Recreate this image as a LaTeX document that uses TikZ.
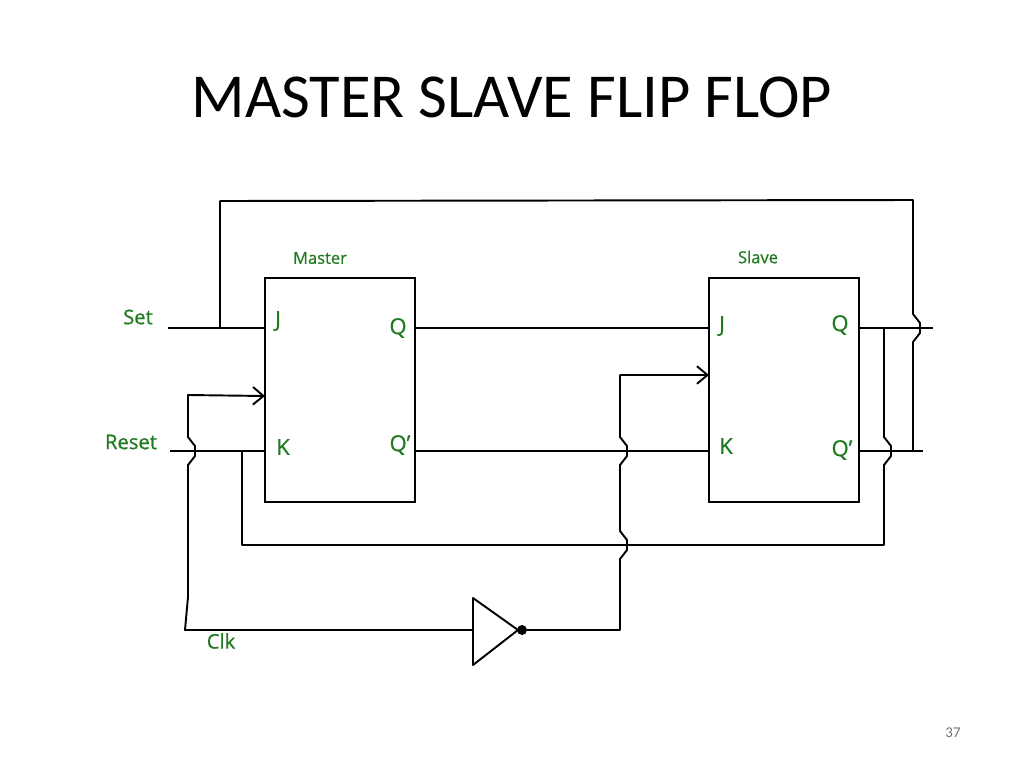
\documentclass[tikz,border=0pt]{standalone}
\usepackage{fontspec}
\setmainfont{Carlito}
\newfontfamily\pinfont[FakeBold=0.7]{Open Sans}
\usetikzlibrary{calc,arrows.meta}
\definecolor{pingreen}{RGB}{32,122,32}
\tikzset{
  wire/.style={line width=1.1pt, line join=round},
  ffbox/.style={draw, line width=1.3pt, minimum width=3cm, minimum height=4.48cm, inner sep=0pt},
  pin/.style={text=pingreen, inner sep=0pt, font=\pinfont\fontsize{12.5}{13}\selectfont},
  sig/.style={text=pingreen, inner sep=0pt, font=\pinfont\fontsize{11.5}{12}\selectfont},
  boxname/.style={text=pingreen, inner sep=0pt, font=\pinfont\fontsize{9.4}{10}\selectfont},
  % jump over a crossing wire, going up / going down
  hopup/.style args={#1/#2}{insert path={-- (#1,#2+14) -- (#1+7,#2+5) -- (#1+7,#2-5) -- (#1,#2-14)}},
  hopdn/.style args={#1/#2}{insert path={-- (#1,#2-14) -- (#1+7,#2-5) -- (#1+7,#2+5) -- (#1,#2+14)}},
  clkarrow/.style={-{Straight Barb[length=6pt,width=10pt]}},
}

\begin{document}
\begin{tikzpicture}[x=0.02cm, y=-0.02cm]
		%%%%% START %%%%%
		\useasboundingbox (0,0) rectangle (1024,768);
		
		\node (title) at (512,97) {\fontsize{35.6}{36}\selectfont MASTER SLAVE FLIP FLOP};
		\node[text=black!55, font=\fontsize{8.5}{9}\selectfont] (page) at (953,733) {37};
		
		% the two flip flops
		\node[ffbox] (master) at (340,390) {};
		\node[ffbox] (slave) at (784,390) {};
		\node[boxname] (mname) at (320,258) {Master};
		\node[boxname] (sname) at (758,257) {Slave};
		
		\node[pin] (mJlab) at (278,321) {J};
		\node[pin] (mQlab) at (398,328) {Q};
		\node[pin] (mKlab) at (283,447) {K};
		\node[pin] (mQblab) at (400,445) {Q’};
		\node[pin] (sJlab) at (722,326) {J};
		\node[pin] (sQlab) at (840,325) {Q};
		\node[pin] (sKlab) at (726,446) {K};
		\node[pin] (sQblab) at (842,450) {Q’};
		
		\node[sig] (setlab) at (138,317) {Set};
		\node[sig] (resetlab) at (131,442) {Reset};
		\node[sig] (clklab) at (221,641) {Clk};
		
		% ports
		\coordinate (mJ) at (265,328);
		\coordinate (mK) at (265,451);
		\coordinate (mC) at (265,396);
		\coordinate (mQ) at (415,328);
		\coordinate (mQb) at (415,451);
		\coordinate (sJ) at (709,328);
		\coordinate (sK) at (709,451);
		\coordinate (sC) at (709,375);
		\coordinate (sQ) at (859,328);
		\coordinate (sQb) at (859,451);
		\coordinate (set) at (168,328);
		\coordinate (reset) at (170,451);
		\coordinate (qend) at (933,328);
		\coordinate (qbend) at (923,451);
		
		% inverter
		\coordinate (invin) at (473,630);
		\coordinate (invout) at (527,630);
		\draw[wire] (473,598) -- (518,630) -- (473,665) -- cycle;
		\fill (522,630) circle (5);
		
		\draw[wire] (set) -- (mJ);
		\draw[wire] (reset) -- (mK);
		\draw[wire] (mQ) -- (sJ);
		\draw[wire] (mQb) -- (sK);
		\draw[wire] (sQ) -- (qend);
		\draw[wire] (sQb) -- (qbend);
		
		% feedback Q' -> J and Q -> K
		\draw[wire] (220,328) -- (220,201) -- (913,200) [hopdn=913/328] -- (913,451);
		\draw[wire] (884,328) [hopdn=884/451] -- (884,545) -- (242,545) -- (242,451);
		
		% clock
		\draw[wire, clkarrow] (invin) -- (185,630) -- (188,597) [hopup=188/451] -- (188,395) -- (mC);
		\draw[wire, clkarrow] (invout) -- (620,630) [hopup=620/545] [hopup=620/451] -- (620,375) -- (sC);
		
		%%%%% END %%%%%
\end{tikzpicture}
\end{document}
